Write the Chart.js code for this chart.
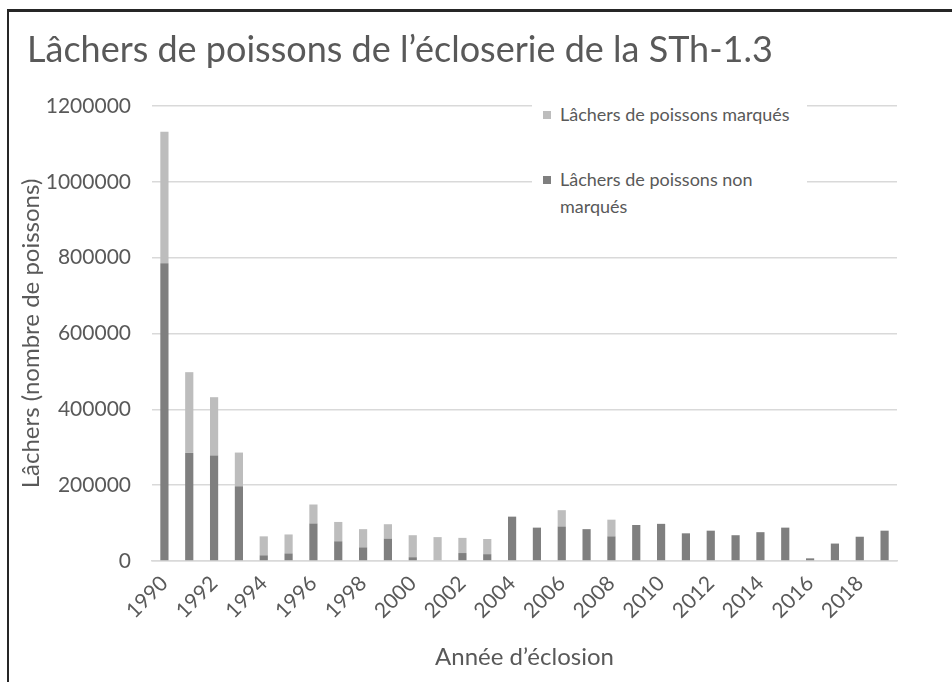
<!DOCTYPE html>
<html lang="fr"><head><meta charset="utf-8">
<script src="https://cdn.jsdelivr.net/npm/chart.js@4"></script>
<style>
html,body{margin:0;padding:0;background:#fff;}
#wrap{position:relative;width:952px;height:682px;overflow:hidden;background:#fff;}
#c{position:absolute;left:0;top:0;}
#frame{position:absolute;left:7px;top:9px;width:1000px;height:700px;border-top:3px solid #262626;border-left:2px solid #262626;pointer-events:none;}
#legend{position:absolute;left:532px;top:96px;width:275px;height:132px;background:#fff;font-family:Lato,"DejaVu Sans",sans-serif;font-size:18px;color:#595959;}
.lg-item{position:absolute;left:0;width:275px;}
.lg-box{position:absolute;left:11px;width:8px;height:8px;}
.lg-text{position:absolute;left:28px;width:240px;line-height:27px;}
</style>
</head><body>
<div id="wrap">
<canvas id="c" width="952" height="682"></canvas>
<div id="legend"></div>
<div id="frame"></div>
</div>
<script>
// ---- data ----
const years = ['1990','1991','1992','1993','1994','1995','1996','1997','1998','1999',
               '2000','2001','2002','2003','2004','2005','2006','2007','2008','2009',
               '2010','2011','2012','2013','2014','2015','2016','2017','2018','2019'];
const tickLabels = ['1990','1992','1994','1996','1998','2000','2002','2004','2006','2008',
                    '2010','2012','2014','2016','2018'];
const nonMarques = [785000,285000,278000,197000,15000,20000,99000,52000,36000,59000,
                    10000,0,21000,18000,117000,88000,91000,84000,65000,95000,
                    98000,73000,80000,68000,76000,88000,7000,46000,64000,80000];
const marques = [347000,213000,154000,89000,50000,50000,50000,51000,48000,38000,
                 58000,63000,40000,40000,0,0,43000,0,44000,0,
                 0,0,0,0,0,0,0,0,0,0];
const seriesNames = ['Lâchers de poissons marqués','Lâchers de poissons non marqués'];
const yTicks = [0,200000,400000,600000,800000,1000000,1200000];
const titleText = 'Lâchers de poissons de l’écloserie de la STh-1.3';
const xTitle = 'Année d’éclosion';
const yTitle = 'Lâchers (nombre de poissons)';

const colDark = '#7f7f7f';
const colLight = '#bdbdbd';
const txt = '#595959';
const FONT = 'Lato';

new Chart(document.getElementById('c'), {
  type: 'bar',
  data: {
    labels: years,
    datasets: [
      {label: seriesNames[1], data: nonMarques, backgroundColor: colDark, stack: 's'},
      {label: seriesNames[0], data: marques, backgroundColor: colLight, stack: 's'}
    ]
  },
  options: {
    responsive: false,
    animation: false,
    datasets: {bar: {barPercentage: 0.33, categoryPercentage: 1}},
    layout: {padding: {left: 27, right: 55, top: 0, bottom: 0}},
    plugins: {
      legend: {display: false},
      tooltip: {enabled: false},
      title: {
        display: true, text: titleText, align: 'start', color: txt,
        font: {family: FONT, size: 36, weight: '400'},
        padding: {top: 29, bottom: 33.8}
      }
    },
    scales: {
      x: {
        stacked: true,
        grid: {display: false},
        border: {display: true, color: '#d9d9d9', width: 1.5},
        ticks: {
          autoSkip: false, minRotation: 45, maxRotation: 45, color: txt, padding: 2,
          font: {family: FONT, size: 21},
          callback: function(v, i) { return tickLabels.includes(years[i]) ? years[i] : ''; }
        },
        title: {display: true, text: xTitle, color: txt, font: {family: FONT, size: 24}, padding: {top: 0, bottom: 10}},
        afterFit: function(s) { s.height = 121; }
      },
      y: {
        stacked: true, min: 0, max: 1200000,
        afterBuildTicks: function(s) { s.ticks = yTicks.map(v => ({value: v})); },
        ticks: {color: txt, padding: 21, font: {family: FONT, size: 21},
                callback: function(v) { return String(v); }},
        grid: {color: '#d9d9d9', lineWidth: 1.5, drawTicks: false},
        border: {display: false},
        title: {display: true, text: yTitle, color: txt, font: {family: FONT, size: 24}, padding: {top: -10, bottom: 0}},
        afterFit: function(s) { s.width = 125; }
      }
    }
  }
});

// HTML legend built from series names
const lg = document.getElementById('legend');
const items = [
  {name: seriesNames[0], color: colLight, top: 5},
  {name: seriesNames[1], color: colDark, top: 70}
];
items.forEach(it => {
  const d = document.createElement('div');
  d.className = 'lg-item'; d.style.top = it.top + 'px';
  const b = document.createElement('div');
  b.className = 'lg-box'; b.style.background = it.color; b.style.top = '10px';
  const t = document.createElement('div');
  t.className = 'lg-text'; t.textContent = it.name;
  if (it.top > 50) t.style.width = '225px';
  d.appendChild(b); d.appendChild(t); lg.appendChild(d);
});
</script>
</body></html>
